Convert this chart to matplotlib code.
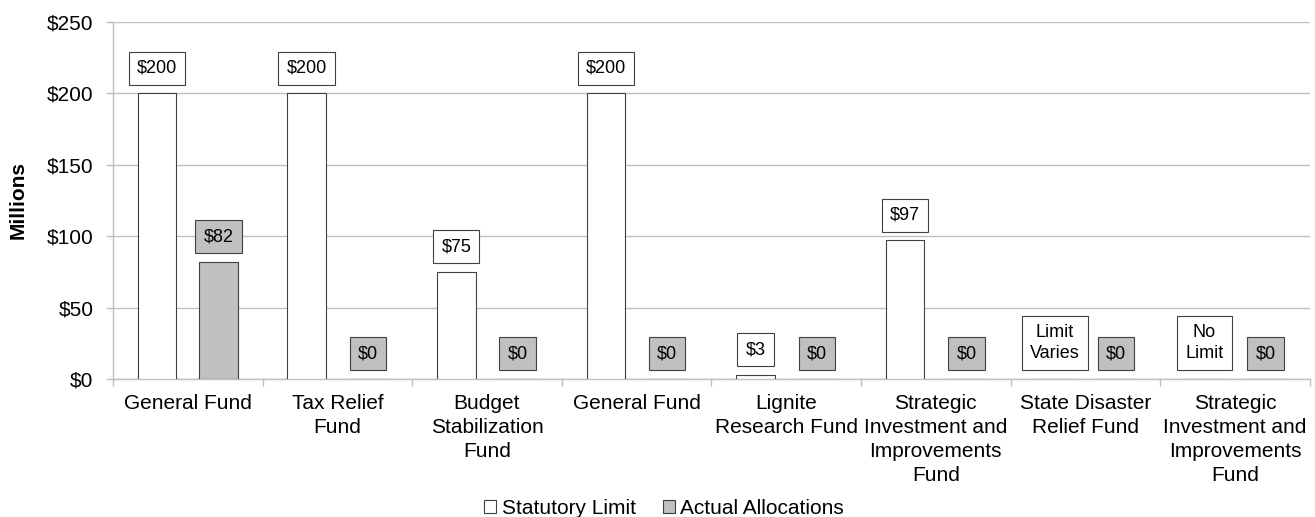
import numpy as np
import matplotlib.pyplot as plt
from matplotlib.patches import Patch

plt.rcParams['font.family'] = ['Liberation Sans', 'DejaVu Sans']

# data (millions of dollars)
categories = ["General Fund", "Tax Relief\nFund", "Budget\nStabilization\nFund",
              "General Fund", "Lignite\nResearch Fund",
              "Strategic\nInvestment and\nImprovements\nFund",
              "State Disaster\nRelief Fund",
              "Strategic\nInvestment and\nImprovements\nFund"]
statutory_limit = [200, 200, 75, 200, 3, 97, 0, 0]
limit_labels = ["$200", "$200", "$75", "$200", "$3", "$97", "Limit\nVaries", "No\nLimit"]
actual_alloc = [82, 0, 0, 0, 0, 0, 0, 0]
actual_labels = ["$82", "$0", "$0", "$0", "$0", "$0", "$0", "$0"]

edge = "#404040"
grey = "#C0C0C0"
grid = "#BFBFBF"

fig = plt.figure(figsize=(13.15, 5.17), dpi=100)
ax = fig.add_axes([0.0859, 0.267, 0.9101, 0.6904])

x = np.arange(len(categories))
w = 0.258
off = 0.205
ax.bar(x - off, statutory_limit, w, color="white", edgecolor=edge, linewidth=0.8, zorder=3)
ax.bar(x + off, actual_alloc, w, color=grey, edgecolor=edge, linewidth=0.8, zorder=3)

def label(xs, ys, texts, fc):
    for xi, yi, t in zip(xs, ys, texts):
        ax.annotate(t, (xi, yi), xytext=(0, 12), textcoords="offset points",
                    ha="center", va="bottom", multialignment="center",
                    fontsize=13, zorder=4, linespacing=1.3,
                    bbox=dict(boxstyle="square,pad=0.45", fc=fc, ec=edge, lw=0.8))

label(x - off, statutory_limit, limit_labels, "white")
label(x + off, actual_alloc, actual_labels, grey)

ax.set_ylim(0, 250)
ax.set_yticks(np.arange(0, 251, 50))
ax.set_yticklabels(["$%d" % v for v in range(0, 251, 50)])
ax.set_xlim(-0.5, len(categories) - 0.5)
ax.set_xticks(np.arange(-0.5, len(categories)), labels=[])
ax.set_xticks(x, labels=categories, minor=True)
ax.tick_params(axis="x", which="major", length=5, color=grid, width=1)
ax.tick_params(axis="x", which="minor", length=0, pad=10.5, labelsize=15)
ax.tick_params(axis="y", length=5, color=grid, width=1, pad=9, labelsize=15)
for lab in ax.get_xticklabels(minor=True):
    lab.set_linespacing(1.34)

ax.yaxis.grid(True, color=grid, linewidth=1.0, zorder=0)
ax.set_axisbelow(True)
for s in ["top", "right"]:
    ax.spines[s].set_visible(False)
for s in ["left", "bottom"]:
    ax.spines[s].set_color(grid)
    ax.spines[s].set_linewidth(1.0)

ax.set_ylabel("Millions", fontsize=15, fontweight="bold")
ax.yaxis.set_label_coords(-0.0715, 0.5)

handles = [Patch(facecolor="white", edgecolor=edge, linewidth=0.8, label="Statutory Limit"),
           Patch(facecolor=grey, edgecolor=edge, linewidth=0.8, label="Actual Allocations")]
fig.legend(handles=handles, loc="center", bbox_to_anchor=(664 / 1315, 1 - 508 / 517),
           ncol=2, frameon=False, fontsize=15, handlelength=0.6, handleheight=0.6,
           handletextpad=0.25, columnspacing=1.3, borderpad=0)

fig.savefig("out.png", dpi=100)
